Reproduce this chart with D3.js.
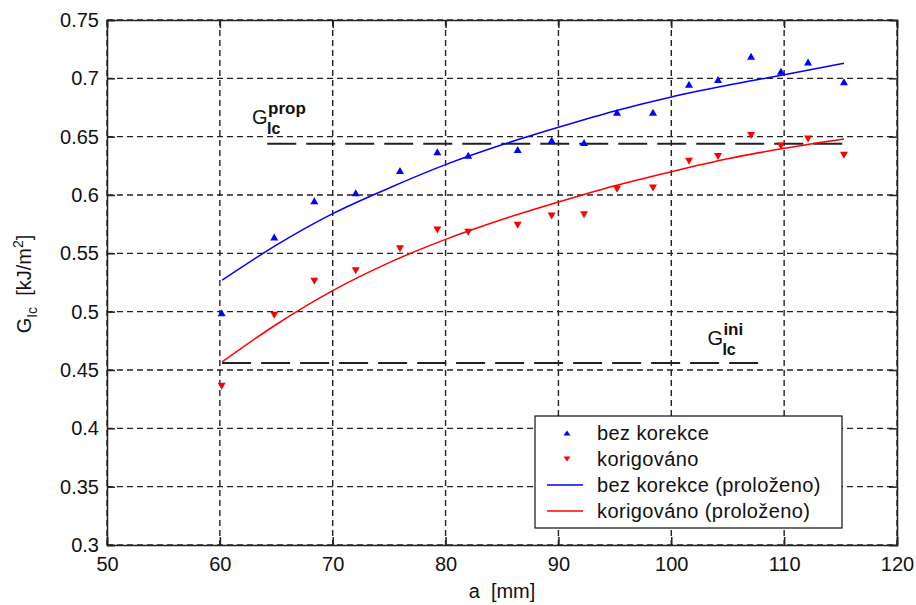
<!DOCTYPE html>
<html lang="cs">
<meta charset="utf-8">
<style>
  body { margin: 0; background: #fff; }
  text { font-family: "Liberation Sans", Arial, sans-serif; fill: #111; }
  .grid line { stroke: #222; stroke-width: 1.4px; stroke-dasharray: 6,4; }
  .axis path, .axis line { stroke: #222; stroke-width: 1.5px; }
  .axis text { font-size: 20px; }
  .ref { stroke: #222; stroke-width: 2px; stroke-dasharray: 29,10; fill: none; }
</style>
<body>
<div id="chart"></div>
<script src="https://d3js.org/d3.v7.min.js"></script>
<script>
"use strict";

// measured points (same crack lengths for both series)
const aValues = [60.16, 64.82, 68.37, 72.04, 75.96, 79.27, 82.01, 86.39, 89.40,
                 92.27, 95.19, 98.38, 101.57, 104.14, 107.07, 109.72, 112.12, 115.30];
const bezKorekce = [0.499, 0.564, 0.595, 0.602, 0.621, 0.637, 0.634, 0.639, 0.647,
                    0.645, 0.671, 0.671, 0.695, 0.699, 0.719, 0.706, 0.714, 0.697];
const korigovano = [0.436, 0.497, 0.526, 0.535, 0.554, 0.570, 0.568, 0.574, 0.582,
                    0.583, 0.605, 0.606, 0.629, 0.633, 0.651, 0.642, 0.648, 0.634];

// fitted curves
const fitA = [60.2, 65, 70, 75, 80, 85, 90, 95, 100, 105, 110, 115.3];
const bezKorekceFit = [0.527, 0.557, 0.584, 0.606, 0.626, 0.643, 0.658, 0.672, 0.684, 0.694, 0.703, 0.713];
const korigovanoFit = [0.457, 0.489, 0.518, 0.542, 0.562, 0.579, 0.594, 0.608, 0.620, 0.631, 0.640, 0.648];

// horizontal reference levels G_Ic^prop and G_Ic^ini
const refLevels = [0.644, 0.456];
const refFrom = [64.2, 60.2];
const refTo = [115.4, 108.0];
const refSup = ["prop", "ini"];
// where their labels sit (a, G)
const refLabelA = [62.85, 103.2];
const refLabelG = [0.649, 0.4595];

const xTicks = [50, 60, 70, 80, 90, 100, 110, 120];
const yTicks = [0.3, 0.35, 0.4, 0.45, 0.5, 0.55, 0.6, 0.65, 0.7, 0.75];
const yTickLabels = ["0.3", "0.35", "0.4", "0.45", "0.5", "0.55", "0.6", "0.65", "0.7", "0.75"];

const legendNames = ["bez korekce", "korigováno", "bez korekce (proloženo)", "korigováno (proloženo)"];

var W = 916, H = 605;
var margin = {top: 20, right: 19, bottom: 60, left: 107};
var width = W - margin.left - margin.right;
var height = H - margin.top - margin.bottom;

var svg = d3.select("#chart").append("svg")
    .attr("width", W)
    .attr("height", H);

var g = svg.append("g")
    .attr("transform", "translate(" + margin.left + "," + margin.top + ")");

var x = d3.scaleLinear().domain([50, 120]).range([0, width]);
var y = d3.scaleLinear().domain([0.3, 0.75]).range([height, 0]);

// grid
var grid = g.append("g").attr("class", "grid");
grid.selectAll(".gx").data(xTicks).enter().append("line")
    .attr("x1", d => x(d)).attr("x2", d => x(d))
    .attr("y1", 0).attr("y2", height);
grid.selectAll(".gy").data(yTicks).enter().append("line")
    .attr("x1", 0).attr("x2", width)
    .attr("y1", d => y(d)).attr("y2", d => y(d));

// axes, ticks pointing inside
g.append("g").attr("class", "axis")
    .attr("transform", "translate(0," + height + ")")
    .call(d3.axisBottom(x).tickValues(xTicks).tickSize(-8).tickPadding(12).tickFormat(d3.format("d")));
g.append("g").attr("class", "axis")
    .call(d3.axisTop(x).tickValues(xTicks).tickSize(-8).tickFormat(""));
g.append("g").attr("class", "axis")
    .call(d3.axisLeft(y).tickValues(yTicks).tickSize(-8).tickPadding(8)
      .tickFormat((d, i) => yTickLabels[i]));
g.append("g").attr("class", "axis")
    .attr("transform", "translate(" + width + ",0)")
    .call(d3.axisRight(y).tickValues(yTicks).tickSize(-8).tickFormat(""));
g.selectAll(".axis .domain").attr("fill", "none");

// reference lines
refLevels.forEach(function(v, i) {
  g.append("line").attr("class", "ref")
    .attr("x1", x(refFrom[i])).attr("x2", x(refTo[i]))
    .attr("y1", y(v)).attr("y2", y(v));
});

// reference labels  G_Ic^prop / G_Ic^ini
refLabelA.forEach(function(a, i) {
  var lx = x(a), ly = y(refLabelG[i]) - 14;
  g.append("text").attr("x", lx).attr("y", ly).style("font-size", "20px").text("G");
  g.append("text").attr("x", lx + 16).attr("y", ly - 10)
    .style("font-size", "17px").style("font-weight", "bold").text(refSup[i]);
  g.append("text").attr("x", lx + 15).attr("y", ly + 10)
    .style("font-size", "16px").style("font-weight", "bold").text("Ic");
});

// fitted lines
var line = d3.line().curve(d3.curveMonotoneX)
    .x(d => x(d[0])).y(d => y(d[1]));

g.append("path")
    .datum(d3.zip(fitA, bezKorekceFit))
    .attr("d", line)
    .attr("fill", "none").attr("stroke", "#0000ff").attr("stroke-width", 1.5);
g.append("path")
    .datum(d3.zip(fitA, korigovanoFit))
    .attr("d", line)
    .attr("fill", "none").attr("stroke", "#ff0000").attr("stroke-width", 1.5);

// triangle markers
function tri(up, w, h) {
  return up
    ? "M0," + (-h / 2) + "L" + (w / 2) + "," + (h / 2) + "L" + (-w / 2) + "," + (h / 2) + "Z"
    : "M0," + (h / 2) + "L" + (w / 2) + "," + (-h / 2) + "L" + (-w / 2) + "," + (-h / 2) + "Z";
}

g.selectAll(".ptb").data(d3.zip(aValues, bezKorekce)).enter().append("path")
    .attr("d", tri(true, 8, 7))
    .attr("transform", d => "translate(" + x(d[0]) + "," + y(d[1]) + ")")
    .attr("fill", "#0000ff");
g.selectAll(".ptr").data(d3.zip(aValues, korigovano)).enter().append("path")
    .attr("d", tri(false, 8, 7))
    .attr("transform", d => "translate(" + x(d[0]) + "," + y(d[1]) + ")")
    .attr("fill", "#ff0000");

// legend
var leg = svg.append("g").attr("transform", "translate(535,416)");
leg.append("rect").attr("width", 307).attr("height", 112)
    .attr("fill", "#fff").attr("stroke", "#111").attr("stroke-width", 1.2);
legendNames.forEach(function(name, i) {
  var cy = 17 + i * 26;
  if (i < 2) {
    leg.append("path").attr("d", tri(i === 0, 7, 5))
      .attr("transform", "translate(32," + cy + ")")
      .attr("fill", i === 0 ? "#0000ff" : "#ff0000");
  } else {
    leg.append("line").attr("x1", 12).attr("x2", 48).attr("y1", cy).attr("y2", cy)
      .attr("stroke", i === 2 ? "#0000ff" : "#ff0000").attr("stroke-width", 1.5);
  }
  leg.append("text").attr("x", 62).attr("y", cy + 7)
    .style("font-size", "20px").style("letter-spacing", "0.4px").text(name);
});

// axis labels
svg.append("text")
    .attr("x", margin.left + width / 2).attr("y", 598)
    .attr("text-anchor", "middle").style("font-size", "20px")
    .attr("xml:space", "preserve")
    .text("a  [mm]");

var yl = svg.append("text")
    .attr("transform", "translate(31,284) rotate(-90)")
    .attr("text-anchor", "middle").style("font-size", "20px");
yl.append("tspan").text("G");
yl.append("tspan").attr("dy", 6).style("font-size", "14px").text("Ic");
yl.append("tspan").attr("dy", -6).text("\u00a0\u00a0[kJ/m");
yl.append("tspan").attr("dy", -8).style("font-size", "14px").text("2");
yl.append("tspan").attr("dy", 8).text("]");
</script>
</body>
</html>
